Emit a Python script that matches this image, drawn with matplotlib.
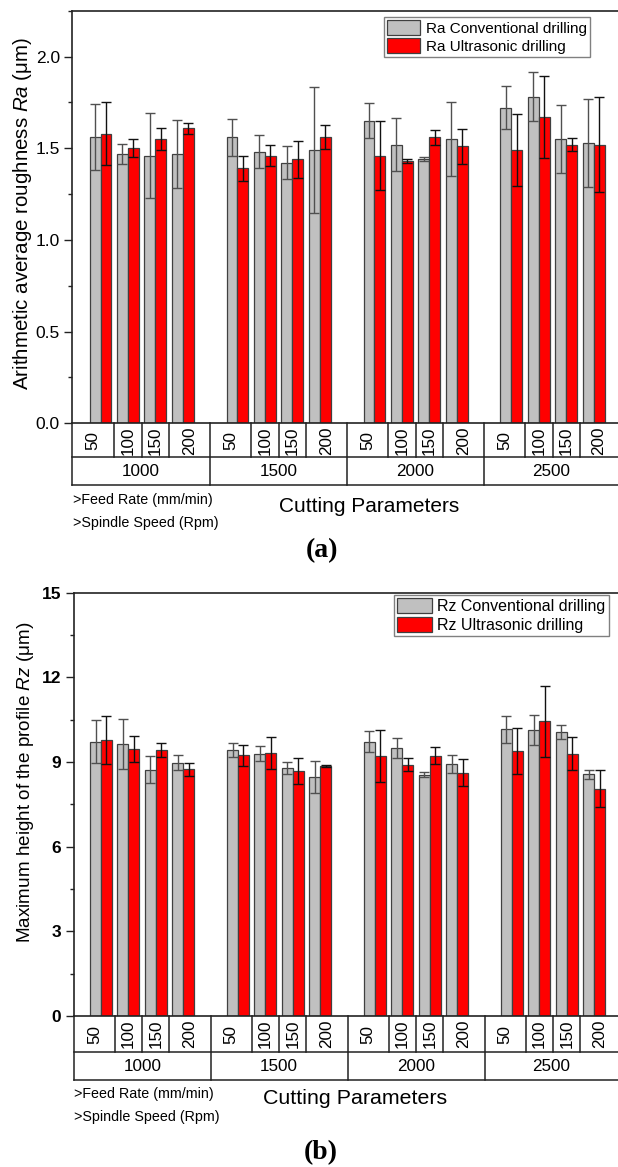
import matplotlib
matplotlib.use("Agg")
import matplotlib.pyplot as plt
from matplotlib.lines import Line2D
from matplotlib.transforms import blended_transform_factory
from matplotlib.ticker import MultipleLocator, FormatStrFormatter

plt.rcParams['font.family'] = ['Liberation Sans', 'DejaVu Sans']
plt.rcParams['mathtext.fontset'] = 'custom'
plt.rcParams['mathtext.rm'] = 'Liberation Sans'
plt.rcParams['mathtext.it'] = 'Liberation Sans:italic'

# ---------------- data ----------------
feed_rates = ["50", "100", "150", "200"]
spindle_speeds = ["1000", "1500", "2000", "2500"]

ra_conv = [1.56, 1.47, 1.46, 1.47, 1.56, 1.48, 1.42, 1.49,
           1.65, 1.52, 1.44, 1.55, 1.72, 1.78, 1.55, 1.53]
ra_conv_err = [0.18, 0.055, 0.23, 0.185, 0.10, 0.09, 0.09, 0.345,
               0.094, 0.146, 0.01, 0.20, 0.117, 0.134, 0.185, 0.24]
ra_ultra = [1.58, 1.50, 1.55, 1.61, 1.39, 1.46, 1.44, 1.56,
            1.46, 1.43, 1.56, 1.51, 1.49, 1.67, 1.52, 1.52]
ra_ultra_err = [0.17, 0.05, 0.06, 0.03, 0.07, 0.058, 0.10, 0.066,
                0.19, 0.012, 0.042, 0.097, 0.195, 0.225, 0.035, 0.26]

rz_conv = [9.72, 9.64, 8.72, 8.98, 9.43, 9.30, 8.79, 8.46,
           9.72, 9.49, 8.55, 8.93, 10.16, 10.13, 10.05, 8.56]
rz_conv_err = [0.76, 0.87, 0.48, 0.26, 0.24, 0.28, 0.20, 0.57,
               0.37, 0.35, 0.08, 0.33, 0.47, 0.53, 0.25, 0.17]
rz_ultra = [9.79, 9.46, 9.44, 8.74, 9.24, 9.32, 8.69, 8.86,
            9.22, 8.91, 9.22, 8.62, 9.39, 10.44, 9.30, 8.05]
rz_ultra_err = [0.85, 0.47, 0.25, 0.22, 0.37, 0.55, 0.47, 0.03,
                0.93, 0.22, 0.30, 0.48, 0.83, 1.27, 0.59, 0.65]

# ---------------- layout ----------------
W, H = 618, 1167
fig = plt.figure(figsize=(W / 100, H / 100), dpi=100)


def px_rect(left, top, right, bottom):
    return [left / W, 1 - bottom / H, (right - left) / W, (bottom - top) / H]


GRAY = "#C0C0C0"
RED = "#FF0000"
EDGE = "#404040"
BW = 0.4

positions = [g * 5 + s for g in range(len(spindle_speeds)) for s in range(len(feed_rates))]


def add_texts(notes_x, notes_y, cut_xy, cut_fs, cap_xy, cap):
    fig.text(notes_x / W, 1 - notes_y[0] / H, ">Feed Rate (mm/min)",
             ha='left', va='center', fontsize=10.3)
    fig.text(notes_x / W, 1 - notes_y[1] / H, ">Spindle Speed (Rpm)",
             ha='left', va='center', fontsize=10.3)
    fig.text(cut_xy[0] / W, 1 - cut_xy[1] / H, "Cutting Parameters",
             ha='center', va='center', fontsize=cut_fs)
    fig.text(cap_xy[0] / W, 1 - cap_xy[1] / H, cap, ha='center', va='center',
             fontsize=20, fontweight='bold',
             family=['Liberation Serif', 'DejaVu Serif'])


def panel(rect, xlim, conv, conv_err, ultra, ultra_err, ylim, major, minor,
          labels, ylabel, ylabel_fs, ylabel_xy, bold_ticks, legend_xy, legend_fs,
          row1_px, row2_px):
    ax = fig.add_axes(px_rect(*rect))
    axh = rect[3] - rect[1]
    xg = [p - BW / 2 for p in positions]
    xr = [p + BW / 2 for p in positions]
    b1 = ax.bar(xg, conv, width=BW, color=GRAY, edgecolor=EDGE, linewidth=0.9,
                label=labels[0], zorder=2)
    b2 = ax.bar(xr, ultra, width=BW, color=RED, edgecolor=EDGE, linewidth=0.9,
                label=labels[1], zorder=2)
    ax.errorbar(xg, conv, yerr=conv_err, fmt='none', ecolor="#505050",
                elinewidth=1.0, capsize=3.5, capthick=1.0, zorder=3)
    ax.errorbar(xr, ultra, yerr=ultra_err, fmt='none', ecolor="#111111",
                elinewidth=1.0, capsize=3.5, capthick=1.0, zorder=3)
    ax.set_xlim(*xlim)
    ax.set_ylim(*ylim)
    ax.yaxis.set_major_locator(MultipleLocator(major))
    ax.yaxis.set_minor_locator(MultipleLocator(minor))
    ax.tick_params(axis='y', which='major', direction='out', length=6, width=1.0,
                   pad=3, labelsize=12.5, color="#222222")
    ax.tick_params(axis='y', which='minor', direction='out', length=3, width=1.0,
                   color="#222222")
    if bold_ticks:
        ax.yaxis.set_major_formatter(FormatStrFormatter('%d'))
        for t in ax.get_yticklabels():
            t.set_fontweight('bold')
    else:
        ax.yaxis.set_major_formatter(FormatStrFormatter('%.1f'))
    ax.set_xticks([])
    ax.spines['right'].set_visible(False)
    for s in ('left', 'top', 'bottom'):
        ax.spines[s].set_linewidth(1.2)
        ax.spines[s].set_color("#222222")

    # category table under the axis
    trans = blended_transform_factory(ax.transData, ax.transAxes)
    y1 = -row1_px / axh
    y2 = -(row1_px + row2_px) / axh
    x0, x1 = xlim
    lk = dict(transform=trans, clip_on=False, color="#222222", linewidth=1.1)
    ax.add_line(Line2D([x0, x1], [y1, y1], **lk))
    ax.add_line(Line2D([x0, x1], [y2, y2], **lk))
    ax.add_line(Line2D([x0, x0], [0, y2], **lk))
    ng = len(spindle_speeds)
    for g in range(ng):
        left = x0 if g == 0 else g * 5 - 1
        right = x1 if g == ng - 1 else g * 5 + 4
        if g > 0:
            ax.add_line(Line2D([left, left], [0, y2], **lk))
        edges = [left] + [g * 5 + k + 0.5 for k in range(len(feed_rates) - 1)] + [right]
        for k in range(1, len(edges) - 1):
            ax.add_line(Line2D([edges[k], edges[k]], [0, y1], **lk))
        for k, lab in enumerate(feed_rates):
            ax.text((edges[k] + edges[k + 1]) / 2, y1 / 2, lab, transform=trans,
                    rotation=90, ha='center', va='center', fontsize=12.3)
        ax.text((left + right) / 2, (y1 + y2) / 2, spindle_speeds[g], transform=trans,
                ha='center', va='center', fontsize=12.3)

    leg = ax.legend(handles=[b1, b2], loc='upper left',
                    bbox_to_anchor=(legend_xy[0] / W, 1 - legend_xy[1] / H),
                    bbox_transform=fig.transFigure, borderaxespad=0,
                    fontsize=legend_fs, frameon=True, fancybox=False,
                    edgecolor="#808080", framealpha=1, handlelength=2.15,
                    handleheight=1.05, handletextpad=0.35, labelspacing=0.18,
                    borderpad=0.2)
    leg.get_frame().set_linewidth(1.0)

    fig.text(ylabel_xy[0] / W, 1 - ylabel_xy[1] / H, ylabel, rotation=90,
             ha='center', va='center', fontsize=ylabel_fs)
    return ax


# panel (a)
panel(rect=(72.3, 10.7, 618, 423.3), xlim=(-1.03, 18.89),
      conv=ra_conv, conv_err=ra_conv_err, ultra=ra_ultra, ultra_err=ra_ultra_err,
      ylim=(0, 2.25), major=0.5, minor=0.25,
      labels=("Ra Conventional drilling", "Ra Ultrasonic drilling"),
      ylabel="Arithmetic average roughness $Ra$ (μm)", ylabel_fs=14.8,
      ylabel_xy=(23, 213), bold_ticks=False, legend_xy=(384.3, 17.3), legend_fs=11,
      row1_px=34, row2_px=28)
add_texts(72.7, (500, 522.7), (369.5, 506.7), 15, (322, 551), "(a)")

# panel (b)
panel(rect=(74, 592.7, 618, 1016), xlim=(-0.985, 18.87),
      conv=rz_conv, conv_err=rz_conv_err, ultra=rz_ultra, ultra_err=rz_ultra_err,
      ylim=(0, 15), major=3, minor=1.5,
      labels=("Rz Conventional drilling", "Rz Ultrasonic drilling"),
      ylabel="Maximum height of the profile $Rz$ (μm)", ylabel_fs=13.6,
      ylabel_xy=(26, 782), bold_ticks=True, legend_xy=(394.3, 595), legend_fs=11.5,
      row1_px=36.3, row2_px=28)
add_texts(74, (1094, 1116.7), (355.5, 1099), 15.4, (320.4, 1153), "(b)")

fig.savefig("out.png", dpi=100)
